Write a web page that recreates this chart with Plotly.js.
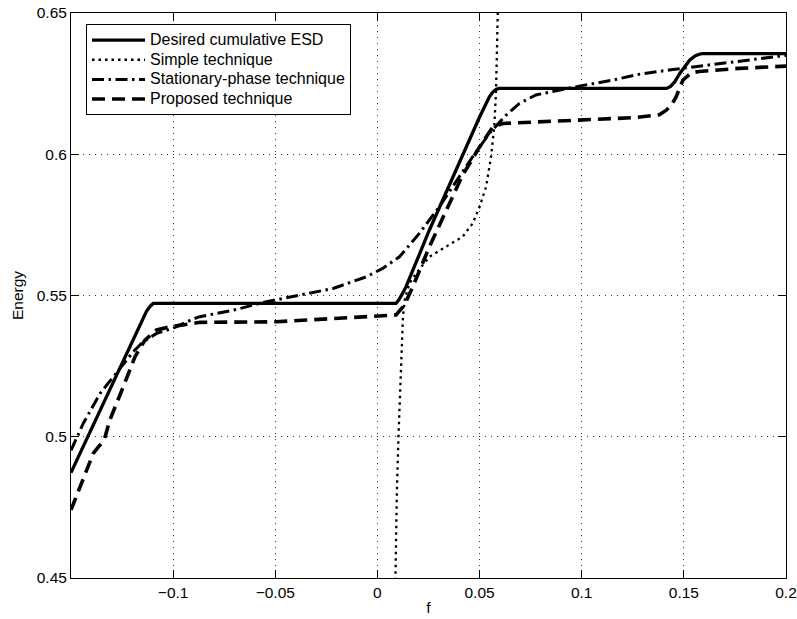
<!DOCTYPE html>
<html>
<head>
<meta charset="utf-8">
<script src="https://cdn.plot.ly/plotly-3.0.1.min.js"></script>
<style>html,body{margin:0;padding:0;background:#fff;}#chart{width:797px;height:619px;}</style>
</head>
<body>
<div id="chart"></div>
<script>
// Desired cumulative ESD (solid)
const esdF = [-0.15, -0.1162, -0.113, -0.1110, -0.1097, 0.0091, 0.0105, 0.0125, 0.014, 0.0254, 0.0417, 0.05, 0.0548, 0.0565, 0.058, 0.0595, 0.1415, 0.1435, 0.1455, 0.148, 0.1528, 0.1555, 0.1575, 0.159, 0.2];
const esdE = [0.4873, 0.5401, 0.5445, 0.5464, 0.5472, 0.5472, 0.5485, 0.5510, 0.5531, 0.5731, 0.6000, 0.6132, 0.6203, 0.6220, 0.6229, 0.6233, 0.6233, 0.6240, 0.6256, 0.6286, 0.6333, 0.6348, 0.6354, 0.6356, 0.6356];

// Simple technique (dotted)
const simpleF = [0.0086, 0.0089, 0.0095, 0.0103, 0.0112, 0.0120, 0.0125, 0.0135, 0.0158, 0.0189, 0.0254, 0.0336, 0.0417, 0.0466, 0.05, 0.0532, 0.0556, 0.0572, 0.058, 0.0584, 0.0588, 0.0592];
const simpleE = [0.44, 0.46, 0.48, 0.50, 0.52, 0.535, 0.5425, 0.549, 0.5545, 0.5578, 0.5637, 0.5673, 0.5708, 0.5755, 0.5814, 0.5885, 0.5991, 0.6097, 0.6215, 0.6333, 0.645, 0.66];

// Stationary-phase technique (dash-dot)
const statF = [-0.15, -0.1492, -0.144, -0.1358, -0.126, -0.1195, -0.1147, -0.1081, -0.1, -0.0902, -0.0869, -0.0706, -0.0543, -0.0381, -0.0217, -0.0055, 0.0026, 0.0108, 0.0205, 0.0303, 0.0385, 0.0466, 0.0548, 0.0629, 0.0695, 0.0776, 0.09, 0.1, 0.115, 0.127, 0.1446, 0.161, 0.177, 0.2];
const statE = [0.4952, 0.4965, 0.5047, 0.5153, 0.5242, 0.5301, 0.5336, 0.5366, 0.5384, 0.5417, 0.5425, 0.5448, 0.5478, 0.5501, 0.5525, 0.5566, 0.5596, 0.5637, 0.5720, 0.5814, 0.5902, 0.5991, 0.6074, 0.6138, 0.6180, 0.6210, 0.6228, 0.6243, 0.6262, 0.6282, 0.6300, 0.6315, 0.6327, 0.6350];

// Proposed technique (dashed)
const propF = [-0.15, -0.1456, -0.1391, -0.1365, -0.135, -0.1335, -0.131, -0.1244, -0.1187, -0.1138, -0.1081, -0.1016, -0.0902, -0.0869, -0.0494, -0.0217, 0.0042, 0.0091, 0.0132, 0.0173, 0.0254, 0.0336, 0.0417, 0.05, 0.0565, 0.0614, 0.0679, 0.0988, 0.1267, 0.1380, 0.1414, 0.1440, 0.1462, 0.1495, 0.1536, 0.1575, 0.177, 0.2];
const propE = [0.4741, 0.4823, 0.4941, 0.4965, 0.4977, 0.4995, 0.5059, 0.5177, 0.5283, 0.5342, 0.5378, 0.5389, 0.5403, 0.5405, 0.5407, 0.5419, 0.5428, 0.5431, 0.5466, 0.5531, 0.5672, 0.5802, 0.5926, 0.6026, 0.6097, 0.6109, 0.6111, 0.6123, 0.6130, 0.6140, 0.6156, 0.6175, 0.6203, 0.6262, 0.6288, 0.6293, 0.6304, 0.6312];

const seriesNames = ["Desired cumulative ESD", "Simple technique", "Stationary-phase technique", "Proposed technique"];

const xTickVals = [-0.1, -0.05, 0, 0.05, 0.1, 0.15, 0.2];
const xTickText = ["\u22120.1", "\u22120.05", "0", "0.05", "0.1", "0.15", "0.2"];
const yTickVals = [0.45, 0.5, 0.55, 0.6, 0.65];
const yTickText = ["0.45", "0.5", "0.55", "0.6", "0.65"];

const FONT = "Liberation Sans, Arial, Helvetica, sans-serif";
const legendLabel = s => '<span style="font-size:16px">' + s + '</span>';

const traces = [
  {x: esdF, y: esdE, name: legendLabel(seriesNames[0]), mode: "lines", line: {color: "#000", width: 3.3, dash: "solid"}},
  {x: simpleF, y: simpleE, name: legendLabel(seriesNames[1]), mode: "lines", line: {color: "#000", width: 2.3, dash: "2.5px,4px"}},
  {x: statF, y: statE, name: legendLabel(seriesNames[2]), mode: "lines", line: {color: "#000", width: 3, dash: "12px,4.5px,2.5px,4.5px"}},
  {x: propF, y: propE, name: legendLabel(seriesNames[3]), mode: "lines", line: {color: "#000", width: 3.6, dash: "13px,7px"}}
];

const axisCommon = {
  showline: true, linecolor: "#000", linewidth: 1, mirror: "ticks",
  ticks: "inside", ticklen: 8, tickwidth: 1, tickcolor: "#000",
  showgrid: true, gridcolor: "#333", gridwidth: 1, griddash: "1px,5px",
  zeroline: false, tickmode: "array",
  tickfont: {family: FONT, size: 15.5, color: "#000"}
};

const layout = {
  width: 797, height: 619,
  margin: {l: 71, r: 11, t: 13, b: 41},
  paper_bgcolor: "#fff", plot_bgcolor: "#fff",
  font: {family: FONT, color: "#000"},
  showlegend: true,
  xaxis: Object.assign({}, axisCommon, {
    range: [-0.15, 0.2], tickvals: xTickVals, ticktext: xTickText,
    title: {text: "f", font: {family: FONT, size: 15.5, color: "#000"}, standoff: 2}
  }),
  yaxis: Object.assign({}, axisCommon, {
    range: [0.45, 0.65], tickvals: yTickVals, ticktext: yTickText,
    title: {text: "Energy", font: {family: FONT, size: 15.5, color: "#000"}, standoff: 9}
  }),
  legend: {
    x: 0.021, y: 0.98, xanchor: "left", yanchor: "top",
    bgcolor: "#fff", bordercolor: "#000", borderwidth: 1,
    font: {family: FONT, size: 12.8, color: "#000"},
    itemwidth: 53, tracegroupgap: 0
  }
};

Plotly.newPlot("chart", traces, layout, {staticPlot: true, displayModeBar: false});
</script>
</body>
</html>
